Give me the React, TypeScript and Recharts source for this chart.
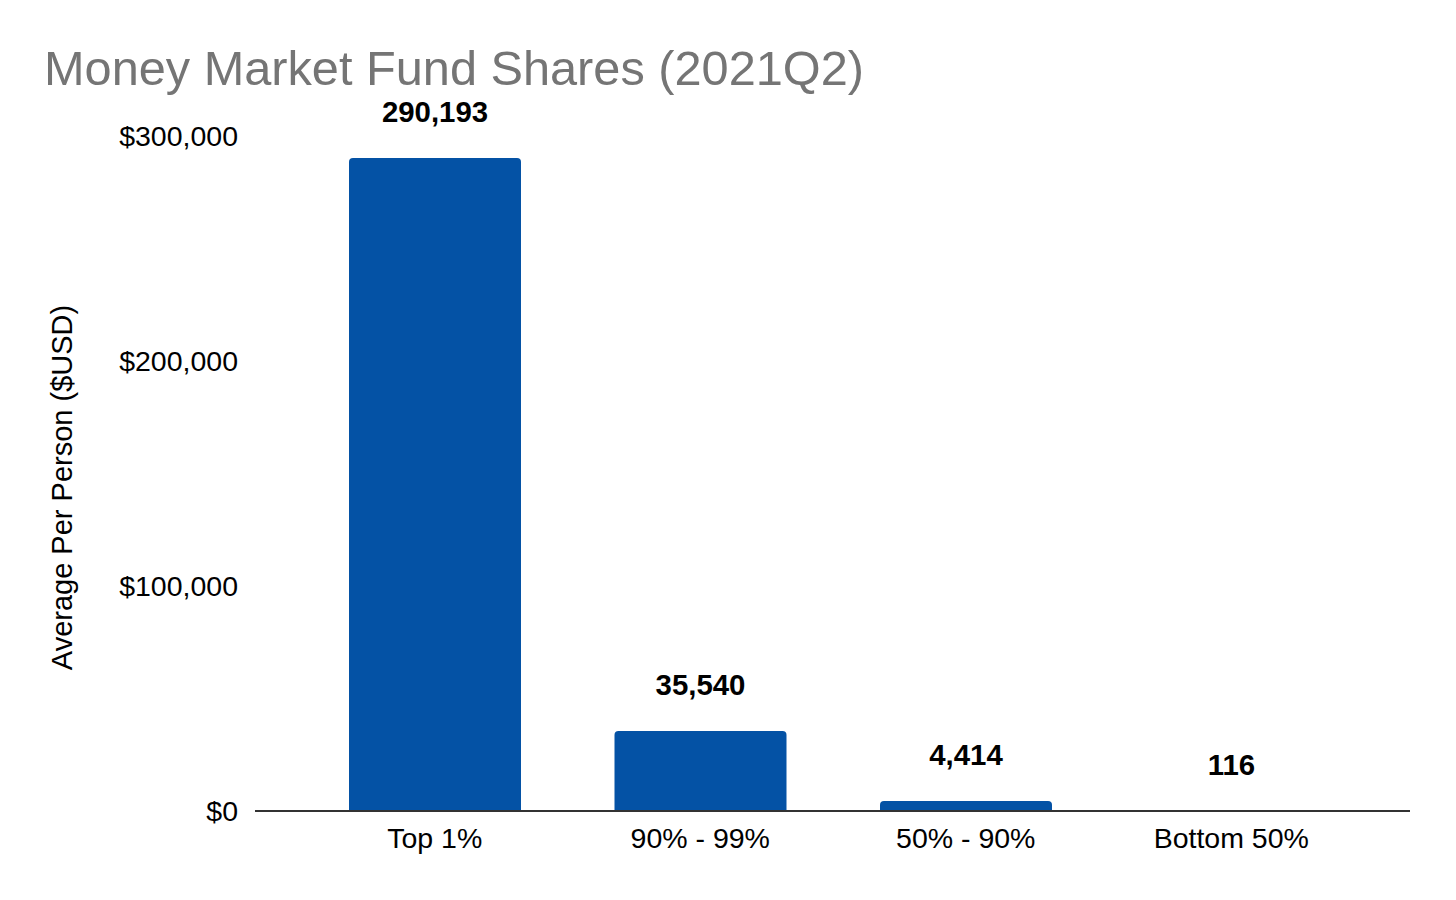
import React from "react";
import { BarChart, Bar, XAxis, YAxis, LabelList, Label } from "recharts";

const groups = ["Top 1%", "90% - 99%", "50% - 90%", "Bottom 50%"];
const avgPerPerson = [290193, 35540, 4414, 116];
const yTicks = [0, 100000, 200000, 300000];

const data = groups.map((group, i) => ({ group, value: avgPerPerson[i] }));

const FONT = "'Liberation Sans', Arial, sans-serif";
const BLUE = "#0452a5";

const fmtMoney = (v: number) => "$" + v.toLocaleString("en-US");
const fmtNum = (v: number) => v.toLocaleString("en-US");

const YLabel = (props: any) => {
  const vb = props.viewBox || {};
  // label sits a little below the plot's middle in the original
  const cy = (vb.y ?? 0) + (vb.height ?? 0) / 2 + 14;
  const cx = 62;
  return (
    <text
      x={cx}
      y={cy}
      transform={`rotate(-90 ${cx} ${cy})`}
      textAnchor="middle"
      dominantBaseline="central"
      fontSize={29}
      fontFamily={FONT}
      fill="#000"
    >
      Average Per Person ($USD)
    </text>
  );
};

const App = () => {
  return (
    <div style={{ position: "absolute", left: 0, top: 0, width: 1456, height: 900, background: "#fff", fontFamily: FONT }}>
      <div
        style={{
          position: "absolute",
          left: 44,
          top: 40,
          fontSize: 48.7,
          color: "#757575",
          whiteSpace: "nowrap",
        }}
      >
        Money Market Fund Shares (2021Q2)
      </div>
      <BarChart
        width={1456}
        height={900}
        data={data}
        margin={{ top: 136, right: 46, bottom: 39, left: 0 }}
        barCategoryGap={47}
      >
        <XAxis
          dataKey="group"
          height={50}
          padding={{ left: 47, right: 46 }}
          axisLine={{ stroke: "#333", strokeWidth: 2 }}
          tickLine={false}
          tickMargin={11}
          tick={{ fontSize: 28.5, fill: "#000", fontFamily: FONT }}
        />
        <YAxis
          width={255}
          domain={[0, 300000]}
          ticks={yTicks}
          axisLine={false}
          tickLine={false}
          tickMargin={11}
          tickFormatter={fmtMoney}
          tick={{ fontSize: 28.5, fill: "#000", fontFamily: FONT }}
        >
          <Label content={<YLabel />} />
        </YAxis>
        <Bar dataKey="value" fill={BLUE} radius={[4, 4, 0, 0]} isAnimationActive={false}>
          <LabelList
            dataKey="value"
            position="top"
            offset={36}
            formatter={(v: any) => fmtNum(Number(v))}
            style={{ fontSize: 29.4, fontWeight: 700, fill: "#000", fontFamily: FONT }}
          />
        </Bar>
      </BarChart>
    </div>
  );
};

export default App;
